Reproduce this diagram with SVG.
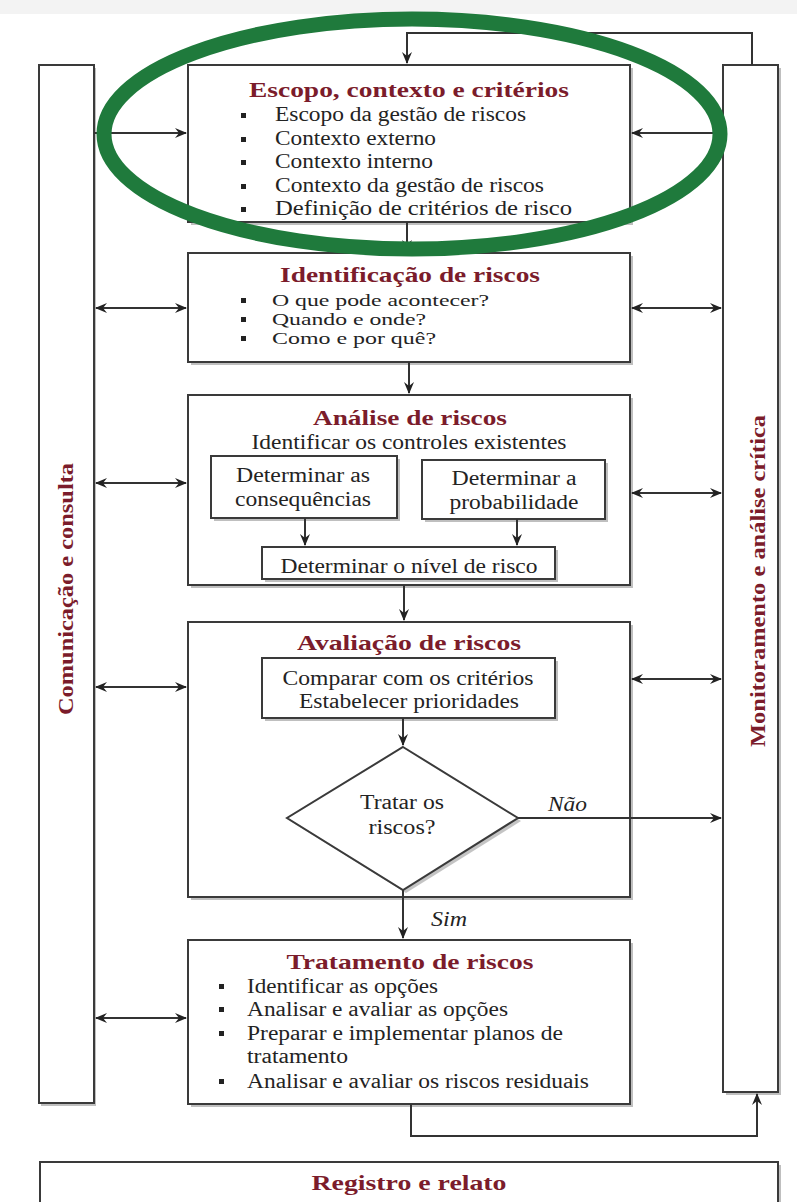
<svg xmlns="http://www.w3.org/2000/svg" width="797" height="1202" viewBox="0 0 797 1202">
<style>
.box{fill:#fff;stroke:#3a3a3a;stroke-width:2}
.sh{fill:#8a8a8a;opacity:0.55}
.t{font-family:'Liberation Serif','Times New Roman',Times,serif;fill:#7b1c2b;font-weight:bold;text-anchor:middle}
.b{font-family:'Liberation Serif','Times New Roman',Times,serif;fill:#232323;font-size:20px}
.s{font-size:17px}
.c{text-anchor:middle}
.i{font-style:italic}
.bul{fill:#222}
.ln{fill:none;stroke:#333;stroke-width:2}
</style>
<defs>
<marker id="ah" viewBox="0 0 12 10" refX="11" refY="5" markerWidth="12" markerHeight="10" markerUnits="userSpaceOnUse" orient="auto-start-reverse">
<path d="M0,0 L12,5 L0,10 L4,5 z" fill="#222"/>
</marker>
</defs>
<rect x="0" y="0" width="797" height="1202" fill="#fff"/>
<rect x="0" y="0" width="797" height="14" fill="#f3f3f3"/>

<g id="comunicacao">
<rect class="sh" x="41" y="68" width="55" height="1038"/>
<rect class="box" x="39" y="65" width="55" height="1038"/>
<text class="t" font-size="21" transform="translate(73,589) rotate(-90)" textLength="252" lengthAdjust="spacingAndGlyphs">Comunicação e consulta</text>
</g>

<g id="monitoramento">
<rect class="sh" x="726" y="68" width="55" height="1027"/>
<rect class="box" x="723" y="65" width="55" height="1027"/>
<text class="t" font-size="21" transform="translate(765,581) rotate(-90)" textLength="332" lengthAdjust="spacingAndGlyphs">Monitoramento e análise crítica</text>
</g>

<g id="escopo">
<rect class="sh" x="191" y="68" width="442" height="157"/>
<rect class="box" x="188" y="65" width="442" height="157"/>
<text class="t" x="409" y="97" font-size="22" textLength="320" lengthAdjust="spacingAndGlyphs">Escopo, contexto e critérios</text>
<rect class="bul" x="241" y="113" width="5" height="5"/>
<rect class="bul" x="241" y="137" width="5" height="5"/>
<rect class="bul" x="241" y="160" width="5" height="5"/>
<rect class="bul" x="241" y="184" width="5" height="5"/>
<rect class="bul" x="241" y="207" width="5" height="5"/>
<text class="b" x="275" y="121" textLength="251" lengthAdjust="spacingAndGlyphs">Escopo da gestão de riscos</text>
<text class="b" x="275" y="145" textLength="161" lengthAdjust="spacingAndGlyphs">Contexto externo</text>
<text class="b" x="275" y="168" textLength="158" lengthAdjust="spacingAndGlyphs">Contexto interno</text>
<text class="b" x="275" y="192" textLength="269" lengthAdjust="spacingAndGlyphs">Contexto da gestão de riscos</text>
<text class="b" x="275" y="215" textLength="297" lengthAdjust="spacingAndGlyphs">Definição de critérios de risco</text>
</g>

<g id="identificacao">
<rect class="sh" x="191" y="256" width="442" height="109"/>
<rect class="box" x="188" y="253" width="442" height="109"/>
<text class="t" x="410" y="282" font-size="22" textLength="260" lengthAdjust="spacingAndGlyphs">Identificação de riscos</text>
<rect class="bul" x="241" y="298" width="5" height="5"/>
<rect class="bul" x="241" y="317" width="5" height="5"/>
<rect class="bul" x="241" y="336" width="5" height="5"/>
<text class="b s" x="272" y="306" textLength="217" lengthAdjust="spacingAndGlyphs">O que pode acontecer?</text>
<text class="b s" x="272" y="325" textLength="154" lengthAdjust="spacingAndGlyphs">Quando e onde?</text>
<text class="b s" x="272" y="344" textLength="164" lengthAdjust="spacingAndGlyphs">Como e por quê?</text>
</g>

<g id="analise">
<rect class="sh" x="191" y="398" width="442" height="190"/>
<rect class="box" x="188" y="395" width="442" height="190"/>
<text class="t" x="410" y="425" font-size="22" textLength="194" lengthAdjust="spacingAndGlyphs">Análise de riscos</text>
<text class="b c" x="409" y="449" textLength="315" lengthAdjust="spacingAndGlyphs">Identificar os controles existentes</text>
</g>

<g id="consequencias">
<rect class="sh" x="214" y="459" width="186" height="62"/>
<rect class="box" x="211" y="456" width="186" height="62"/>
<text class="b c" x="303" y="482" textLength="134" lengthAdjust="spacingAndGlyphs">Determinar as</text>
<text class="b c" x="303" y="506" textLength="136" lengthAdjust="spacingAndGlyphs">consequências</text>
</g>

<g id="probabilidade">
<rect class="sh" x="425" y="463" width="183" height="59"/>
<rect class="box" x="422" y="460" width="183" height="59"/>
<text class="b c" x="514" y="485" textLength="125" lengthAdjust="spacingAndGlyphs">Determinar a</text>
<text class="b c" x="514" y="509" textLength="129" lengthAdjust="spacingAndGlyphs">probabilidade</text>
</g>

<g id="nivel">
<rect class="sh" x="265" y="550" width="293" height="32"/>
<rect class="box" x="262" y="547" width="293" height="32"/>
<text class="b c" x="409" y="573" textLength="257" lengthAdjust="spacingAndGlyphs">Determinar o nível de risco</text>
</g>

<g id="avaliacao">
<rect class="sh" x="191" y="625" width="442" height="275"/>
<rect class="box" x="188" y="622" width="442" height="275"/>
<text class="t" x="409" y="650" font-size="22" textLength="224" lengthAdjust="spacingAndGlyphs">Avaliação de riscos</text>
</g>

<g id="comparar">
<rect class="sh" x="265" y="661" width="293" height="60"/>
<rect class="box" x="262" y="658" width="293" height="60"/>
<text class="b c" x="408" y="685" textLength="251" lengthAdjust="spacingAndGlyphs">Comparar com os critérios</text>
<text class="b c" x="409" y="708" textLength="220" lengthAdjust="spacingAndGlyphs">Estabelecer prioridades</text>
</g>

<g id="decisao">
<polygon points="406,750 521,821 406,893 290,821" fill="#8a8a8a" opacity="0.5"/>
<polygon class="box" points="403,747 518,818 403,890 287,818"/>
<text class="b c" x="402" y="809" textLength="84" lengthAdjust="spacingAndGlyphs">Tratar os</text>
<text class="b c" x="402" y="834" textLength="67" lengthAdjust="spacingAndGlyphs">riscos?</text>
</g>

<g id="tratamento">
<rect class="sh" x="191" y="943" width="442" height="164"/>
<rect class="box" x="188" y="940" width="442" height="164"/>
<text class="t" x="410" y="969" font-size="22" textLength="247" lengthAdjust="spacingAndGlyphs">Tratamento de riscos</text>
<rect class="bul" x="219" y="984" width="5" height="5"/>
<rect class="bul" x="219" y="1007" width="5" height="5"/>
<rect class="bul" x="219" y="1031" width="5" height="5"/>
<rect class="bul" x="219" y="1079" width="5" height="5"/>
<text class="b" x="247" y="993" textLength="191" lengthAdjust="spacingAndGlyphs">Identificar as opções</text>
<text class="b" x="247" y="1016" textLength="261" lengthAdjust="spacingAndGlyphs">Analisar e avaliar as opções</text>
<text class="b" x="247" y="1040" textLength="316" lengthAdjust="spacingAndGlyphs">Preparar e implementar planos de</text>
<text class="b" x="247" y="1063" textLength="101" lengthAdjust="spacingAndGlyphs">tratamento</text>
<text class="b" x="247" y="1088" textLength="342" lengthAdjust="spacingAndGlyphs">Analisar e avaliar os riscos residuais</text>
</g>

<g id="registro">
<rect class="sh" x="43" y="1165" width="738" height="60"/>
<rect class="box" x="40" y="1162" width="738" height="60"/>
<text class="t" x="409" y="1190" font-size="22" textLength="195" lengthAdjust="spacingAndGlyphs">Registro e relato</text>
</g>

<g id="connectors">
<path class="ln" d="M752,65 V33 H407 V63" marker-end="url(#ah)"/>
<path class="ln" d="M407,222 V251" marker-end="url(#ah)"/>
<path class="ln" d="M409,362 V393" marker-end="url(#ah)"/>
<path class="ln" d="M404,585 V620" marker-end="url(#ah)"/>
<path class="ln" d="M305,518 V545" marker-end="url(#ah)"/>
<path class="ln" d="M517,519 V545" marker-end="url(#ah)"/>
<path class="ln" d="M403,718 V745" marker-end="url(#ah)"/>
<path class="ln" d="M518,818 H721" marker-end="url(#ah)"/>
<path class="ln" d="M403,890 V938" marker-end="url(#ah)"/>
<path class="ln" d="M411,1104 V1136 H757 V1094" marker-end="url(#ah)"/>
<path class="ln" d="M94,133 H186" marker-end="url(#ah)"/>
<path class="ln" d="M723,133 H632" marker-end="url(#ah)"/>
<path class="ln" d="M96,308 H186" marker-start="url(#ah)" marker-end="url(#ah)"/>
<path class="ln" d="M96,483 H186" marker-start="url(#ah)" marker-end="url(#ah)"/>
<path class="ln" d="M96,687 H186" marker-start="url(#ah)" marker-end="url(#ah)"/>
<path class="ln" d="M96,1018 H186" marker-start="url(#ah)" marker-end="url(#ah)"/>
<path class="ln" d="M632,308 H721" marker-start="url(#ah)" marker-end="url(#ah)"/>
<path class="ln" d="M632,493 H721" marker-start="url(#ah)" marker-end="url(#ah)"/>
<path class="ln" d="M632,679 H721" marker-start="url(#ah)" marker-end="url(#ah)"/>
<text class="b i" x="548" y="811" textLength="39" lengthAdjust="spacingAndGlyphs">Não</text>
<text class="b i" x="431" y="926" textLength="36" lengthAdjust="spacingAndGlyphs">Sim</text>
</g>

<ellipse id="destaque" cx="412" cy="134" rx="308" ry="115" fill="none" stroke="#1f7a3c" stroke-width="15"/>
</svg>
